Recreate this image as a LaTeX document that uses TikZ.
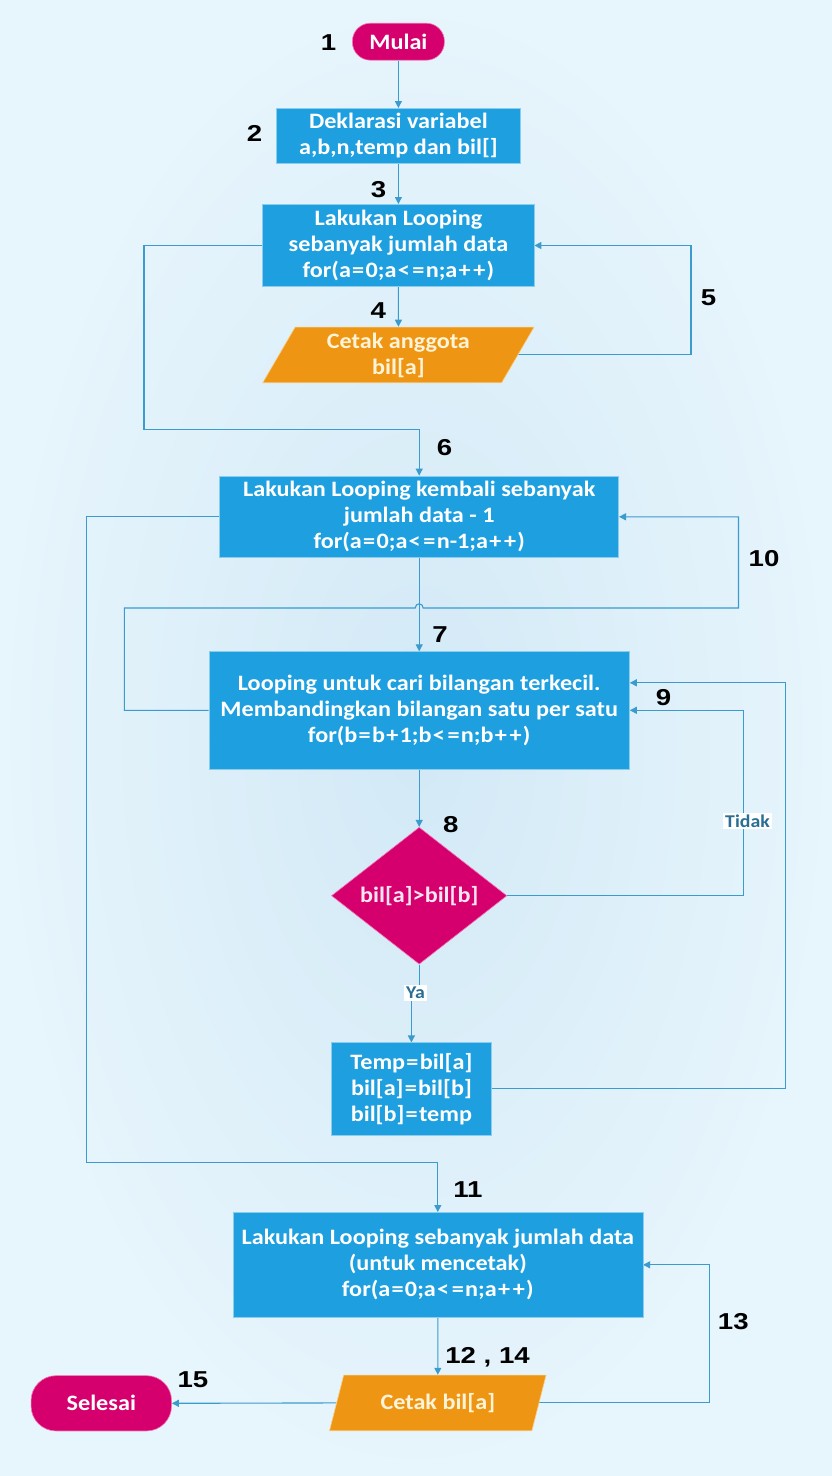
\documentclass[tikz,border=0pt]{standalone}
\usepackage{fontspec}
\usetikzlibrary{shapes.geometric,arrows.meta,backgrounds}
\newfontfamily\boxfont{Carlito}[FakeStretch=1.1]
\newfontfamily\numfont{Liberation Sans}[FakeStretch=1.2]
% operator with a little air on both sides, as in the loop headers
\newcommand\opsym[1]{\kern1.3pt#1\kern1.3pt}
\definecolor{boxblue}{HTML}{1E9FDF}
\definecolor{boxedge}{HTML}{8CCDEE}
\definecolor{magentaA}{HTML}{D5006D}
\definecolor{magentaedge}{HTML}{F07DB5}
\definecolor{orangeA}{HTML}{EE9614}
\definecolor{orangeedge}{HTML}{F8D08C}
\definecolor{linkblue}{HTML}{3A9BCE}
\definecolor{bgin}{HTML}{D2E9F6}
\definecolor{bgout}{HTML}{E7F5FC}
\definecolor{labtext}{HTML}{2A6E94}
\definecolor{cream}{HTML}{FFF4D8}
\definecolor{pinktext}{HTML}{FDE6F1}
\begin{document}
\begin{tikzpicture}[x=1pt,y=-1pt,
  txt/.style={font=\boxfont\bfseries\fontsize{22}{26}\selectfont, align=center, inner sep=0pt},
  procbox/.style={txt, rectangle, fill=boxblue, draw=boxedge, line width=0.6pt, text=white},
  term/.style={txt, rectangle, fill=magentaA, draw=magentaedge, line width=0.6pt, text=white},
  io/.style={txt, trapezium, trapezium stretches=true, fill=orangeA, draw=orangeedge, line width=0.6pt, text=cream},
  decision/.style={txt, diamond, fill=magentaA, draw=magentaedge, line width=0.6pt, text=pinktext},
  num/.style={font=\numfont\bfseries\fontsize{23}{23}\selectfont, text=black, inner sep=0pt},
  branch/.style={font=\boxfont\bfseries\fontsize{18}{18}\selectfont, fill=white, text=labtext, inner sep=2pt},
  conn/.style={draw=linkblue, line width=1.1pt},
  arr/.style={conn, -{Triangle[length=7pt,width=7pt]}}
]
\useasboundingbox (0,0) rectangle (832,1476);

% flowchart steps
\node[term, rounded corners=18pt, minimum width=92pt, minimum height=37pt] (n1) at (398.4,41.7) {Mulai};
\node[procbox, minimum width=244.7pt, minimum height=55.4pt] (b2) at (398.4,136) {Deklarasi variabel\\a,b,n,temp dan bil[]};
\node[procbox, minimum width=271.3pt, minimum height=82.4pt] (b3) at (398.4,245.5) {Lakukan Looping\\sebanyak jumlah data\\for(a\opsym{=}0;a\opsym{<}\opsym{=}n;a\opsym{+}\opsym{+})};
\node[io, minimum width=272pt, minimum height=55.7pt, trapezium left angle=63.3, trapezium right angle=116.7] (p4) at (398.4,354.9) {Cetak anggota\\bil[a]};
\node[procbox, minimum width=399pt, minimum height=81.7pt] (b6) at (419.2,516.8) {Lakukan Looping kembali sebanyak\\jumlah data - 1\\for(a\opsym{=}0;a\opsym{<}\opsym{=}n-1;a\opsym{+}\opsym{+})};
\node[procbox, minimum width=420.6pt, minimum height=117.3pt] (b7) at (419.2,710.3) {Looping untuk cari bilangan terkecil.\\Membandingkan bilangan satu per satu\\for(b\opsym{=}b\opsym{+}1;b\opsym{<}\opsym{=}n;b\opsym{+}\opsym{+})};
\node[decision, minimum width=175.5pt, minimum height=137pt, shape aspect=1.28] (d8) at (419.2,895.7) {bil[a]>bil[b]};
\node[procbox, minimum width=160.7pt, minimum height=92.3pt] (t9) at (411.4,1088.9) {Temp\opsym{=}bil[a]\\bil[a]\opsym{=}bil[b]\\bil[b]\opsym{=}temp};
\node[procbox, minimum width=410pt, minimum height=105pt] (b11) at (437.8,1264.8) {Lakukan Looping sebanyak jumlah data\\(untuk mencetak)\\for(a\opsym{=}0;a\opsym{<}\opsym{=}n;a\opsym{+}\opsym{+})};
\node[io, minimum width=217pt, minimum height=55.7pt, trapezium left angle=65.8, trapezium right angle=114.2] (p12) at (437.8,1402.9) {Cetak bil[a]};
\node[term, rounded corners=25pt, minimum width=140.5pt, minimum height=55.3pt] (s15) at (101.3,1403.3) {Selesai};

% step numbers
\node[num] (l1) at (328.5,42.3) {1};
\node[num] (l2) at (254.5,133.8) {2};
\node[num] (l3) at (378.5,190) {3};
\node[num] (l4) at (378.3,310.8) {4};
\node[num] (l5) at (708.5,298) {5};
\node[num] (l6) at (444.5,448) {6};
\node[num] (l7) at (440,635) {7};
\node[num] (l8) at (450.8,825) {8};
\node[num] (l9) at (663.6,698) {9};
\node[num] (l10) at (764,558.3) {10};
\node[num] (l11) at (468,1189.5) {11};
\node[num] (l12) at (487.6,1357) {12 , 14};
\node[num] (l13) at (733.3,1321.7) {13};
\node[num] (l15) at (193,1380) {15};

% bend points of the loop connectors
\coordinate (c5) at (691,245.5);
\coordinate (c6) at (144,429.3);
\coordinate (c10a) at (124.3,608);
\coordinate (c10b) at (738.5,608);
\coordinate (c9) at (743.5,0);
\coordinate (c8) at (785.5,682.8);
\coordinate (c11) at (86.6,1162.5);
\coordinate (c13) at (709.7,1264.8);

\begin{scope}[on background layer]
  \shade[inner color=bgin, outer color=bgout] (0,0) rectangle (832,1476);
  \draw[arr] (n1.south) -- (b2.north);
  \draw[arr] (b2.south) -- (b3.north);
  \draw[arr] (b3.south) -- (p4.north);
  \draw[arr] (p4.east) -| (c5) -- (b3.east);
  \draw[arr] (b3.west) -| (c6) -| (b6.north);
  \draw[arr] (b6.south) -- (b7.north);
  \draw[arr] (b7.west) -| (c10a) -- (415.2,608) .. controls (415.2,602.5) and (423.2,602.5) .. (423.2,608) -- (c10b) |- (b6.east);
  \draw[arr] (b7.south) -- (d8.north);
  \draw[arr] (d8.east) -| (c9 |- b7.east) -- (b7.east);
  \draw[arr] (d8.south) -- (419.2,993) -| (t9.north);
  \draw[arr] (t9.east) -| (c8) -- ([yshift=27.5pt]b7.east);
  \draw[arr] (b6.west) -| (c11) -| (b11.north);
  \draw[arr] (b11.south) -- (p12.north);
  \draw[arr] (p12.east) -| (c13) -- (b11.east);
  \draw[arr] (p12.west) -- (s15.east);
\end{scope}

% branch labels
\node[branch] (tidak) at (747.5,821) {Tidak};
\node[branch] (ya) at (415.5,993) {Ya};
\end{tikzpicture}
\end{document}
